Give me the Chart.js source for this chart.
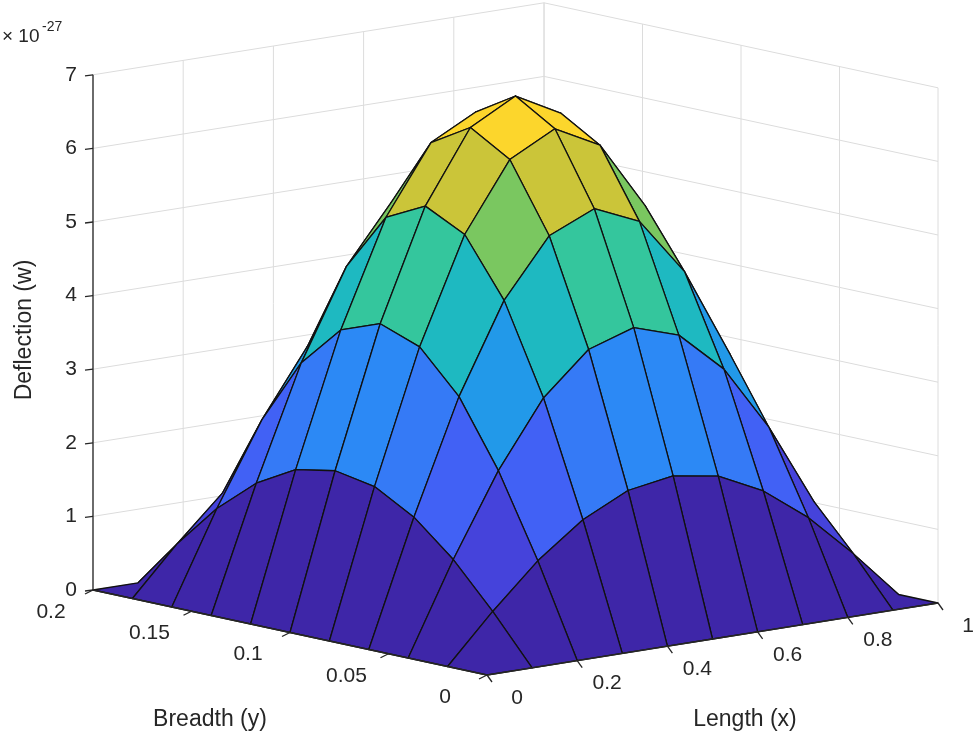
<!DOCTYPE html>
<html><head><meta charset="utf-8">
<script src="https://cdn.jsdelivr.net/npm/chart.js@4/dist/chart.umd.min.js"></script>
<style>html,body{margin:0;padding:0;background:#fff}</style>
</head><body>
<canvas id="c" width="975" height="742"></canvas>
<script>
const xValues = [0,0.1,0.2,0.3,0.4,0.5,0.6,0.7,0.8,0.9,1];
const yValues = [0,0.02,0.04,0.06,0.08,0.1,0.12,0.14,0.16,0.18,0.2];
// deflection w (x1e-27), rows = x index, cols = y index
const wGrid = [
 [0,0,0,0,0,0,0,0,0,0,0],
 [0,0.65,1.24,1.70,2.00,2.10,2.00,1.70,1.24,0.65,0],
 [0,1.24,2.35,3.24,3.80,4.00,3.80,3.24,2.35,1.24,0],
 [0,1.70,3.24,4.45,5.23,5.50,5.23,4.45,3.24,1.70,0],
 [0,2.00,3.80,5.23,6.15,6.47,6.15,5.23,3.80,2.00,0],
 [0,2.10,4.00,5.50,6.47,6.80,6.47,5.50,4.00,2.10,0],
 [0,2.00,3.80,5.23,6.15,6.47,6.15,5.23,3.80,2.00,0],
 [0,1.70,3.24,4.45,5.23,5.50,5.23,4.45,3.24,1.70,0],
 [0,1.24,2.35,3.24,3.80,4.00,3.80,3.24,2.35,1.24,0],
 [0,0.65,1.24,1.70,2.00,2.10,2.00,1.70,1.24,0.65,0],
 [0,0,0,0,0,0,0,0,0,0,0]
];
const xTicks = [0,0.2,0.4,0.6,0.8,1];
const xTickLabels = ['0','0.2','0.4','0.6','0.8','1'];
const yTicks = [0,0.05,0.1,0.15,0.2];
const yTickLabels = ['0','0.05','0.1','0.15','0.2'];
const zTicks = [0,1,2,3,4,5,6,7];

const parula = [[62,38,168],[72,82,244],[46,135,247],[18,177,214],[55,200,151],[171,199,57],[254,195,56],[249,251,21]];
function cmap(t){t=Math.max(0,Math.min(1,t));const f=t*(parula.length-1);const i=Math.min(parula.length-2,Math.floor(f));const r=f-i;
 const c=parula[i].map((v,k)=>Math.round(v+(parula[i+1][k]-v)*r));return `rgb(${c[0]},${c[1]},${c[2]})`;}
function proj(x,y,w){const xn=x, yn=y/0.2;return {x:487+451*xn-394*yn, y:675-72*xn-85*yn-73.6*w};}

const surfPlugin={id:'surf',afterDatasetsDraw(chart){
 const ctx=chart.ctx, sx=chart.scales.x, sy=chart.scales.y;
 const P=(x,y,w)=>{const p=proj(x,y,w);return [sx.getPixelForValue(p.x),sy.getPixelForValue(p.y)];};
 const line=(a,b,col,lw)=>{ctx.beginPath();ctx.moveTo(a[0],a[1]);ctx.lineTo(b[0],b[1]);ctx.strokeStyle=col;ctx.lineWidth=lw;ctx.stroke();};
 ctx.save();
 const g='#dcdcdc';
 xTicks.forEach(x=>line(P(x,0.2,0),P(x,0.2,7),g,1));
 zTicks.forEach(z=>line(P(0,0.2,z),P(1,0.2,z),g,1));
 yTicks.forEach(y=>line(P(1,y,0),P(1,y,7),g,1));
 zTicks.forEach(z=>line(P(1,0,z),P(1,0.2,z),g,1));
 xTicks.forEach(x=>line(P(x,0,0),P(x,0.2,0),g,1));
 yTicks.forEach(y=>line(P(0,y,0),P(1,y,0),g,1));
 const faces=[];
 for(let i=0;i<xValues.length-1;i++)for(let j=0;j<yValues.length-1;j++){
  const ws=[wGrid[i][j],wGrid[i+1][j],wGrid[i+1][j+1],wGrid[i][j+1]];
  faces.push({d:i+j,m:Math.min(...ws),pts:[P(xValues[i],yValues[j],ws[0]),P(xValues[i+1],yValues[j],ws[1]),P(xValues[i+1],yValues[j+1],ws[2]),P(xValues[i],yValues[j+1],ws[3])]});
 }
 faces.sort((a,b)=>b.d-a.d);
 faces.forEach(f=>{ctx.beginPath();f.pts.forEach((p,k)=>k?ctx.lineTo(p[0],p[1]):ctx.moveTo(p[0],p[1]));ctx.closePath();
  ctx.fillStyle=cmap(f.m/6.8);ctx.fill();ctx.strokeStyle='#111';ctx.lineWidth=1.3;ctx.lineJoin='round';ctx.stroke();});
 const k='#262626';
 line(P(0,0.2,0),P(0,0.2,7),k,1.3);
 line(P(0,0,0),P(1,0,0),k,1.3);
 line(P(0,0,0),P(0,0.2,0),k,1.3);
 ctx.fillStyle='#262626';ctx.font='21px "Liberation Sans", Arial, sans-serif';
 ctx.textAlign='right';ctx.textBaseline='middle';
 zTicks.forEach(z=>{const p=P(0,0.2,z);line(p,[p[0]-8,p[1]+1],k,1.3);ctx.fillText(String(z),p[0]-16,p[1]);});
 ctx.textAlign='center';
 xTicks.forEach((x,n)=>{const p=P(x,0,0);line(p,[p[0]+5,p[1]+7],k,1.3);ctx.fillText(xTickLabels[n],p[0]+30,p[1]+23);});
 yTicks.forEach((y,n)=>{const p=P(0,y,0);line(p,[p[0]-8,p[1]+4],k,1.3);ctx.fillText(yTickLabels[n],p[0]-42,p[1]+22);});
 ctx.font='23px "Liberation Sans", Arial, sans-serif';
 ctx.fillText('Length (x)',745,720);
 ctx.fillText('Breadth (y)',210,720);
 ctx.save();ctx.translate(25,330);ctx.rotate(-Math.PI/2);ctx.fillText('Deflection (w)',0,0);ctx.restore();
 ctx.textAlign='left';ctx.font='19px "Liberation Sans", Arial, sans-serif';
 ctx.fillText('\u00d7 10',2,37);ctx.font='14px "Liberation Sans", Arial, sans-serif';ctx.fillText('-27',42,27);
 ctx.restore();
}};

new Chart(document.getElementById('c'),{
 type:'scatter',
 data:{datasets:[{data:[],showLine:false}]},
 options:{responsive:false,animation:false,layout:{padding:0},
  plugins:{legend:{display:false},tooltip:{enabled:false}},
  scales:{x:{type:'linear',min:0,max:975,display:false},y:{type:'linear',min:0,max:742,reverse:true,display:false}}},
 plugins:[surfPlugin]
});
</script>
</body></html>
